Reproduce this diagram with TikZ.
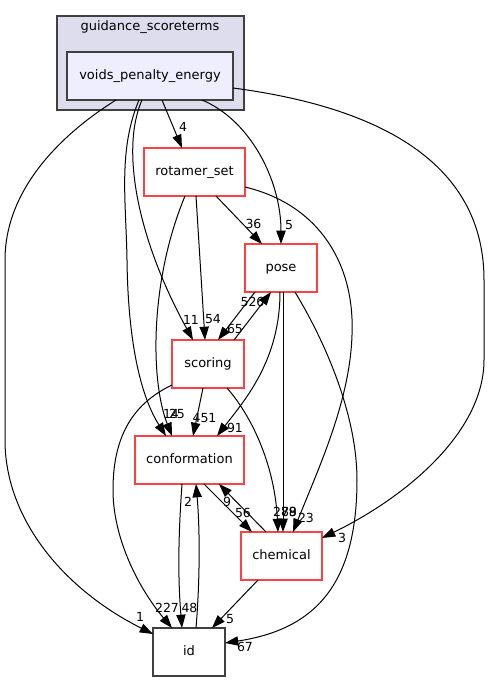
\documentclass[tikz,border=0pt]{standalone}
\usepackage{fontspec}
\setmainfont{DejaVu Sans}
\usetikzlibrary{arrows.meta,positioning}
\definecolor{dirred}{RGB}{255,64,64}
\definecolor{clusterfill}{HTML}{DDDDEE}
\definecolor{topfill}{HTML}{EEEEFF}
\definecolor{dirgray}{HTML}{404040}

\begin{document}
\begin{tikzpicture}[x=1pt,y=-1pt,
    dir/.style={draw=dirred,line width=1.3pt,fill=white,minimum height=48pt,inner sep=0pt,outer sep=0pt,
      font=\fontsize{13}{15}\selectfont,text height=9.5pt,text depth=2.8pt},
    dep/.style={-{Triangle[length=13.3pt,width=9.3pt]},line width=1pt},
    num/.style={font=\fontsize{12.5}{14}\selectfont,inner sep=0pt}]
      \useasboundingbox (0,0) rectangle (489,681);
      \draw[dirgray,fill=clusterfill,line width=1.3pt] (57,16) rectangle (244,110);
      \node[font=\fontsize{13}{15}\selectfont] (cluster) at (150,27.5) {guidance\_scoreterms};
      \node[dir,draw=dirgray,fill=topfill,minimum width=166pt] (voids) at (150,76) {voids\_penalty\_energy};
      \node[dir,minimum width=101pt] (rotamer) at (194.5,172) {rotamer\_set};
      \node[dir,minimum width=72pt] (pose) at (281,268) {pose};
      \node[dir,minimum width=72pt] (scoring) at (208,364) {scoring};
      \node[dir,minimum width=109pt] (conformation) at (189.5,460) {conformation};
      \node[dir,minimum width=81pt] (chemical) at (281.5,556) {chemical};
      \node[dir,draw=dirgray,minimum width=72pt] (id) at (189,652) {id};
      % voids_penalty_energy
      \draw[dep] ([xshift=-34pt]voids.south) .. controls (60,135) and (5,190) .. (5,260) -- (5,440)
        .. controls (5,520) and (65,590) .. ([yshift=-6pt]id.north west) node[num] at (140,617) {1};
      \draw[dep] ([xshift=-11pt]voids.south) .. controls (118,150) and (126,200) .. (127,260)
        .. controls (128,340) and (140,395) .. ([xshift=-23.5pt]conformation.north) node[num] at (171,414) {14};
      \draw[dep] ([xshift=-8pt]voids.south) .. controls (120,150) and (138,240) .. ([xshift=-15pt]scoring.north)
        node[num] at (191,319.5) {11};
      \draw[dep] ([xshift=12pt]voids.south) -- ([xshift=-12.5pt]rotamer.north) node[num] at (183,127) {4};
      \draw[dep] ([xshift=52pt]voids.south) .. controls (250,120) and (281,180) .. (pose.north)
        node[num] at (289,225) {5};
      \draw[dep] ([yshift=-12pt]voids.east) .. controls (400,110) and (484,175) .. (484,280) -- (484,360)
        .. controls (484,430) and (410,495) .. ([yshift=18pt]chemical.east) node[num] at (342,537.5) {3};
      % rotamer_set
      \draw[dep] ([xshift=21.5pt]rotamer.south) -- ([xshift=-19pt]pose.north) node[num] at (253.5,224) {36};
      \draw[dep] ([xshift=1.5pt]rotamer.south) -- ([xshift=-3pt]scoring.north) node[num] at (213,319.5) {54};
      \draw[dep] ([xshift=-9.5pt]rotamer.south) .. controls (150,280) and (150,380) .. ([xshift=-17.5pt]conformation.north)
        node[num] at (177,414) {25};
      \draw[dep] ([yshift=-15pt]rotamer.east) .. controls (320,205) and (355,265) .. (352,335)
        .. controls (350,400) and (320,465) .. ([xshift=11.5pt]chemical.north) node[num] at (306,518) {23};
      % pose
      \draw[dep] ([xshift=-26pt]pose.south) -- ([xshift=10pt]scoring.north) node[num] at (235,329) {65};
      \draw[dep] ([xshift=-1pt]pose.south) .. controls (280,360) and (245,400) .. ([xshift=27.5pt]conformation.north)
        node[num] at (235,428) {91};
      \draw[dep] ([xshift=2pt]pose.south) -- ([xshift=1.5pt]chemical.north) node[num] at (289,512) {78};
      \draw[dep] ([xshift=14pt]pose.south) .. controls (330,350) and (357,420) .. (357,480)
        .. controls (357,590) and (310,630) .. ([yshift=9pt]id.east) node[num] at (245,647) {67};
      % scoring
      \draw[dep] ([xshift=26pt]scoring.north) -- ([xshift=-10pt]pose.south) node[num] at (252.5,302) {526};
      \draw[dep] ([xshift=-5pt]scoring.south) -- ([xshift=3.5pt]conformation.north) node[num] at (204.5,418) {451};
      \draw[dep] ([xshift=19pt]scoring.south) .. controls (255,420) and (275,470) .. ([xshift=-3.5pt]chemical.north)
        node[num] at (285,512) {289};
      \draw[dep] ([yshift=3pt]scoring.south west) .. controls (130,405) and (113,440) .. (113,490)
        .. controls (113,540) and (140,590) .. ([xshift=-17pt]id.north) node[num] at (167,608) {227};
      % conformation, chemical, id
      \draw[dep] ([xshift=-7.5pt]conformation.south) .. controls (178,540) and (178,580) .. ([xshift=-7pt]id.north)
        node[num] at (189.5,608) {48};
      \draw[dep] ([xshift=7pt]id.north) .. controls (200,580) and (200,530) .. ([xshift=6.5pt]conformation.south)
        node[num] at (188,502) {2};
      \draw[dep] ([xshift=14.5pt]conformation.south) -- ([xshift=-29.5pt]chemical.north) node[num] at (243,513) {56};
      \draw[dep] ([xshift=-15.5pt]chemical.north) -- ([xshift=29.5pt]conformation.south) node[num] at (227,501.5) {9};
      \draw[dep] ([xshift=-23.5pt]chemical.south) -- ([xshift=23pt]id.north) node[num] at (230,619.5) {5};
    \end{tikzpicture}
\end{document}
